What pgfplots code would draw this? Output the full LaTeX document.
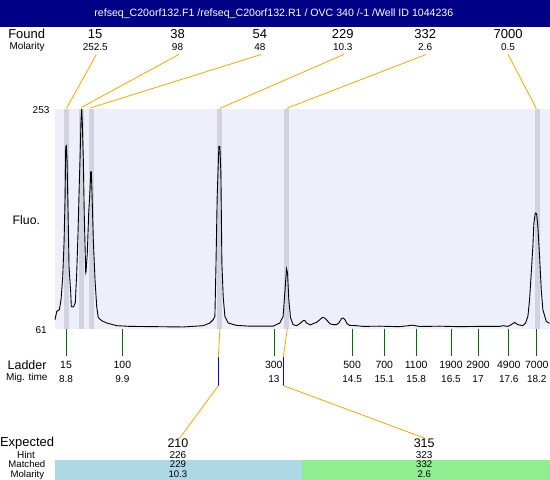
\documentclass[border=0pt]{standalone}
\usepackage{pgfplots}
\pgfplotsset{compat=1.18}
\usepackage{fontspec}
\setmainfont{Liberation Sans}
\definecolor{navyb}{RGB}{0,0,135}
\definecolor{bgl}{RGB}{239,239,252}
\definecolor{band}{RGB}{211,211,223}
\definecolor{orng}{RGB}{255,165,0}
\definecolor{grn}{RGB}{0,110,0}
\definecolor{lblue}{RGB}{173,216,230}
\definecolor{lgreen}{RGB}{144,238,144}
\newcommand{\fs}[1]{\fontsize{#1}{#1}\selectfont}
\begin{document}
\begin{tikzpicture}
\begin{axis}[scale only axis, width=550pt, height=480pt, xmin=0, xmax=550, ymin=0, ymax=480, y dir=reverse, hide axis, clip=false]
% title band
\fill[navyb] (axis cs:0,0) rectangle (axis cs:550,27.3);
\node[text=white, font=\fs{10.6}, inner sep=0] at (axis cs:274,14) {refseq\_C20orf132.F1 /refseq\_C20orf132.R1 / OVC 340 /-1 /Well ID 1044236};
% plot background and peak bands
\fill[bgl] (axis cs:55,109) rectangle (axis cs:550,329);
\fill[band] (axis cs:64,109) rectangle (axis cs:69,329);
\fill[band] (axis cs:79,109) rectangle (axis cs:84,329);
\fill[band] (axis cs:89,109) rectangle (axis cs:94,329);
\fill[band] (axis cs:217,109) rectangle (axis cs:222,329);
\fill[band] (axis cs:284,109) rectangle (axis cs:289,329);
\fill[band] (axis cs:535,109) rectangle (axis cs:540,329);
% electropherogram trace
\addplot[black, line width=0.9pt, mark=none] coordinates {
(55,320) (56.7,311.7) (59.3,310) (61,300) (62.7,277) (64,243) (65,200) (65.7,147) (66.3,146) (67,160) (68.3,227) (69,267) (70.7,293) (71.3,307) (73.3,307.3) (75.3,303) (76.7,273) (78,233) (79.3,183) (80,160) (81,120) (81.7,109) (82.3,123) (83.3,160) (84.3,217) (85.7,273) (86,272) (87.3,253) (88.7,213) (90,190) (90.7,172) (91.3,172) (92,193) (93.3,240) (95,280) (96.7,307) (98.3,318) (101.7,321) (106.7,323.3) (116.7,326) (130,326.7) (156.7,327) (183,327.3) (203.3,326) (210,323.3) (213.3,320) (215,316.7) (216,270) (217.3,196.7) (218.3,166.7) (219,146.7) (220,146.7) (221,173) (222,263) (223.3,296.7) (225,316.7) (228.3,323.3) (236.7,325.7) (250,326.5) (273.3,326.5) (280,323.3) (283.3,316.7) (285,293) (286.7,269.3) (287.7,273) (289,300) (290.7,318) (293.3,325) (296.7,326) (300,324) (303.3,321) (305,320.7) (306.7,323.3) (308.3,324) (310.7,325.3) (313.3,324) (316.7,322.7) (320,320) (322.7,317.7) (325,318.3) (327.3,320.7) (330,324) (333.3,325) (336.7,325) (339,323.3) (341.7,319) (343.3,318.3) (345.3,320) (347.3,324) (350,325.7) (356.7,326) (363.3,326.7) (380,326.5) (400,327) (413,325.5) (420,326.8) (440,326.5) (460,327) (480,326.7) (500,326.7) (503.3,326) (508.3,326.7) (511.7,325) (515,322.7) (518.3,325) (523.3,326) (526,323.3) (528.3,316.7) (530,300) (531.7,273) (533.3,246.7) (534.3,223.3) (535.7,213.3) (537,214) (538.3,226.7) (540,256.7) (541.7,290) (543.3,310) (546.7,321.7) (549.3,323.3) (550,323.5)
};
% y labels
\node[font=\fs{10}, inner sep=0] at (axis cs:41,110) {253};
\node[font=\fs{10}, inner sep=0] at (axis cs:41,330) {61};
\node[font=\fs{12.3}, inner sep=0] at (axis cs:26.3,220) {Fluo.};
% found row
\node[font=\fs{13}, inner sep=0] at (axis cs:26.6,34) {Found};
\node[font=\fs{10}, inner sep=0] at (axis cs:27,47) {Molarity};
\node[font=\fs{13}, inner sep=0] at (axis cs:95,34) {15};
\node[font=\fs{10}, inner sep=0] at (axis cs:95.3,47) {252.5};
\node[font=\fs{13}, inner sep=0] at (axis cs:177.6,34) {38};
\node[font=\fs{10}, inner sep=0] at (axis cs:177.6,47) {98};
\node[font=\fs{13}, inner sep=0] at (axis cs:260,34) {54};
\node[font=\fs{10}, inner sep=0] at (axis cs:260,47) {48};
\node[font=\fs{13}, inner sep=0] at (axis cs:343,34) {229};
\node[font=\fs{10}, inner sep=0] at (axis cs:343,47) {10.3};
\node[font=\fs{13}, inner sep=0] at (axis cs:425.5,34) {332};
\node[font=\fs{10}, inner sep=0] at (axis cs:425.5,47) {2.6};
\node[font=\fs{13}, inner sep=0] at (axis cs:508.5,34) {7000};
\node[font=\fs{10}, inner sep=0] at (axis cs:508.5,47) {0.5};
% orange connectors top
\draw[orng, line width=0.8pt] (axis cs:96.3,54.5) -- (axis cs:66.5,108.5);
\draw[orng, line width=0.8pt] (axis cs:179,54.5) -- (axis cs:81.5,107.5);
\draw[orng, line width=0.8pt] (axis cs:261.5,54.5) -- (axis cs:90.5,108);
\draw[orng, line width=0.8pt] (axis cs:344,54.5) -- (axis cs:220,108.5);
\draw[orng, line width=0.8pt] (axis cs:426.5,54.5) -- (axis cs:286.7,108.5);
\draw[orng, line width=0.8pt] (axis cs:508.5,54.5) -- (axis cs:536.7,108.5);
% ladder ticks
\draw[grn, line width=0.9pt] (axis cs:66.3,329) -- (axis cs:66.3,356);
\draw[grn, line width=0.9pt] (axis cs:122.4,329) -- (axis cs:122.4,356);
\draw[grn, line width=0.9pt] (axis cs:274.3,329) -- (axis cs:274.3,356);
\draw[grn, line width=0.9pt] (axis cs:352.4,329) -- (axis cs:352.4,356);
\draw[grn, line width=0.9pt] (axis cs:384.6,329) -- (axis cs:384.6,356);
\draw[grn, line width=0.9pt] (axis cs:416.5,329) -- (axis cs:416.5,356);
\draw[grn, line width=0.9pt] (axis cs:451.3,329) -- (axis cs:451.3,356);
\draw[grn, line width=0.9pt] (axis cs:478.4,329) -- (axis cs:478.4,356);
\draw[grn, line width=0.9pt] (axis cs:509.2,329) -- (axis cs:509.2,356);
\draw[grn, line width=0.9pt] (axis cs:537.3,329) -- (axis cs:537.3,356);
% ladder labels
\node[font=\fs{12.5}, inner sep=0] at (axis cs:27,365) {Ladder};
\node[font=\fs{10}, inner sep=0] at (axis cs:26.7,378.5) {Mig. time};
\node[font=\fs{10.5}, inner sep=0] at (axis cs:66,365) {15};
\node[font=\fs{10}, inner sep=0] at (axis cs:66,379) {8.8};
\node[font=\fs{10.5}, inner sep=0] at (axis cs:122.4,365) {100};
\node[font=\fs{10}, inner sep=0] at (axis cs:122.4,379) {9.9};
\node[font=\fs{10.5}, inner sep=0] at (axis cs:274,365) {300};
\node[font=\fs{10}, inner sep=0] at (axis cs:274,379) {13};
\node[font=\fs{10.5}, inner sep=0] at (axis cs:352.4,365) {500};
\node[font=\fs{10}, inner sep=0] at (axis cs:352.4,379) {14.5};
\node[font=\fs{10.5}, inner sep=0] at (axis cs:384.6,365) {700};
\node[font=\fs{10}, inner sep=0] at (axis cs:384.6,379) {15.1};
\node[font=\fs{10.5}, inner sep=0] at (axis cs:416.5,365) {1100};
\node[font=\fs{10}, inner sep=0] at (axis cs:416.5,379) {15.8};
\node[font=\fs{10.5}, inner sep=0] at (axis cs:451.3,365) {1900};
\node[font=\fs{10}, inner sep=0] at (axis cs:451.3,379) {16.5};
\node[font=\fs{10.5}, inner sep=0] at (axis cs:478.4,365) {2900};
\node[font=\fs{10}, inner sep=0] at (axis cs:478.4,379) {17};
\node[font=\fs{10.5}, inner sep=0] at (axis cs:509.2,365) {4900};
\node[font=\fs{10}, inner sep=0] at (axis cs:509.2,379) {17.6};
\node[font=\fs{10.5}, inner sep=0] at (axis cs:537.2,365) {7000};
\node[font=\fs{10}, inner sep=0] at (axis cs:537.2,379) {18.2};
% bottom connectors
\draw[orng, line width=0.8pt] (axis cs:220,329) -- (axis cs:218.5,357);
\draw[blue, line width=0.9pt] (axis cs:218.5,357) -- (axis cs:218.5,386);
\draw[orng, line width=0.8pt] (axis cs:218.5,386) -- (axis cs:179.5,439);
\draw[orng, line width=0.8pt] (axis cs:287.5,329) -- (axis cs:283.5,357);
\draw[blue, line width=0.9pt] (axis cs:283.5,357) -- (axis cs:283.5,386);
\draw[orng, line width=0.8pt] (axis cs:283.5,386) -- (axis cs:426,439);
% expected block
\fill[lblue] (axis cs:55,460) rectangle (axis cs:302.3,480);
\fill[lgreen] (axis cs:302.3,460) rectangle (axis cs:550,480);
\node[font=\fs{13}, inner sep=0] at (axis cs:27,444) {Expected};
\node[font=\fs{10}, inner sep=0] at (axis cs:26,455.3) {Hint};
\node[font=\fs{9.6}, inner sep=0] at (axis cs:26.8,465) {Matched};
\node[font=\fs{9.6}, inner sep=0] at (axis cs:27.3,475) {Molarity};
\node[font=\fs{12.5}, inner sep=0] at (axis cs:178,444) {210};
\node[font=\fs{10}, inner sep=0] at (axis cs:178,455.3) {226};
\node[font=\fs{9.6}, inner sep=0] at (axis cs:178,465) {229};
\node[font=\fs{9.6}, inner sep=0] at (axis cs:178,475) {10.3};
\node[font=\fs{12.5}, inner sep=0] at (axis cs:424.5,444) {315};
\node[font=\fs{10}, inner sep=0] at (axis cs:424.5,455.3) {323};
\node[font=\fs{9.6}, inner sep=0] at (axis cs:424.5,465) {332};
\node[font=\fs{9.6}, inner sep=0] at (axis cs:424.5,475) {2.6};
\end{axis}
\end{tikzpicture}
\end{document}
